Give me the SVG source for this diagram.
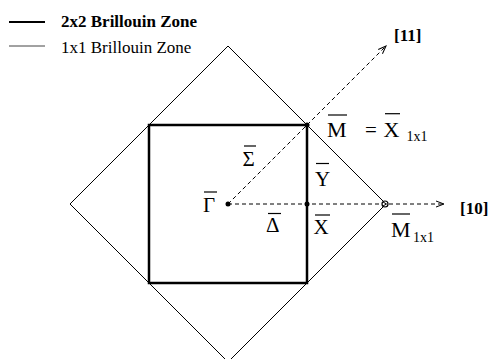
<svg xmlns="http://www.w3.org/2000/svg" width="490" height="359" viewBox="0 0 490 359">
<style>
text{font-family:'Liberation Serif','Times New Roman','DejaVu Serif',serif;fill:#000}
.lbl{font-size:21px}
.big{font-size:22px}
.sub{font-size:14px}
.leg{font-size:17px}
.dir{font-size:17px;font-weight:bold}
.bar{stroke:#000;stroke-width:1.2}
.dash{stroke:#000;stroke-width:1;stroke-dasharray:4 3;fill:none}
</style>
<defs>
<marker id="arr" markerWidth="10" markerHeight="8" refX="8" refY="4" orient="auto" markerUnits="userSpaceOnUse">
<path d="M0,1 L8,4 L0,7" fill="none" stroke="#000" stroke-width="1"/>
</marker>
</defs>
<rect width="490" height="359" fill="#fff"/>
<g id="legend">
<line x1="9" y1="22" x2="45" y2="22" stroke="#000" stroke-width="2.2"/>
<text class="leg" x="61" y="27" font-weight="bold">2x2 Brillouin Zone</text>
<line x1="9" y1="46" x2="45" y2="46" stroke="#444" stroke-width="1"/>
<text class="leg" x="61" y="53">1x1 Brillouin Zone</text>
</g>
<g id="zone1x1">
<polygon points="228,46 386,204 228,362 70,204" fill="none" stroke="#000" stroke-width="1"/>
</g>
<g id="zone2x2">
<rect x="149" y="125" width="158" height="158" fill="none" stroke="#000" stroke-width="2.5"/>
</g>
<g id="connectors">
<line class="dash" x1="228" y1="204" x2="444" y2="204" marker-end="url(#arr)"/>
<line class="dash" x1="228" y1="204" x2="386" y2="46" marker-end="url(#arr)"/>
</g>
<g id="points">
<circle cx="228" cy="204" r="2.5" fill="#000"/>
<circle cx="307" cy="125" r="2.5" fill="#000"/>
<circle cx="307" cy="204" r="2.5" fill="#000"/>
<circle cx="385" cy="204" r="3" fill="#fff" stroke="#000" stroke-width="1.2"/>
<path d="M383,202 L386.5,204 L383,206" fill="none" stroke="#000" stroke-width="1"/>
</g>
<g id="Gamma"><text class="lbl" x="203" y="212">Γ</text><line class="bar" x1="204" y1="192" x2="217" y2="192"/></g>
<g id="Sigma"><text class="lbl" x="242.5" y="166">Σ</text><line class="bar" x1="244" y1="146" x2="256" y2="146"/></g>
<g id="Delta"><text class="lbl" x="266" y="232">Δ</text><line class="bar" x1="268" y1="213.5" x2="281" y2="213.5"/></g>
<g id="Y"><text class="lbl" x="315" y="186">Y</text><line class="bar" x1="316" y1="163.5" x2="329" y2="163.5"/></g>
<g id="X"><text class="lbl" x="313.5" y="234">X</text><line class="bar" x1="315" y1="215" x2="330" y2="215"/></g>
<g id="M">
<text class="big" x="327" y="137">M</text><line class="bar" x1="328" y1="115" x2="347" y2="115"/>
<text class="lbl" x="365" y="137">=</text>
<text class="big" x="383.5" y="137">X</text><line class="bar" x1="385" y1="113.7" x2="400" y2="113.7"/>
<text class="sub" x="406.5" y="141">1x1</text>
</g>
<g id="M1x1">
<text class="big" x="391" y="237">M</text><line class="bar" x1="392" y1="214" x2="410" y2="214"/>
<text class="sub" x="413" y="242">1x1</text>
</g>
<g id="dir11"><text class="dir" x="394" y="41">[11]</text></g>
<g id="dir10"><text class="dir" x="460" y="214">[10]</text></g>
</svg>
